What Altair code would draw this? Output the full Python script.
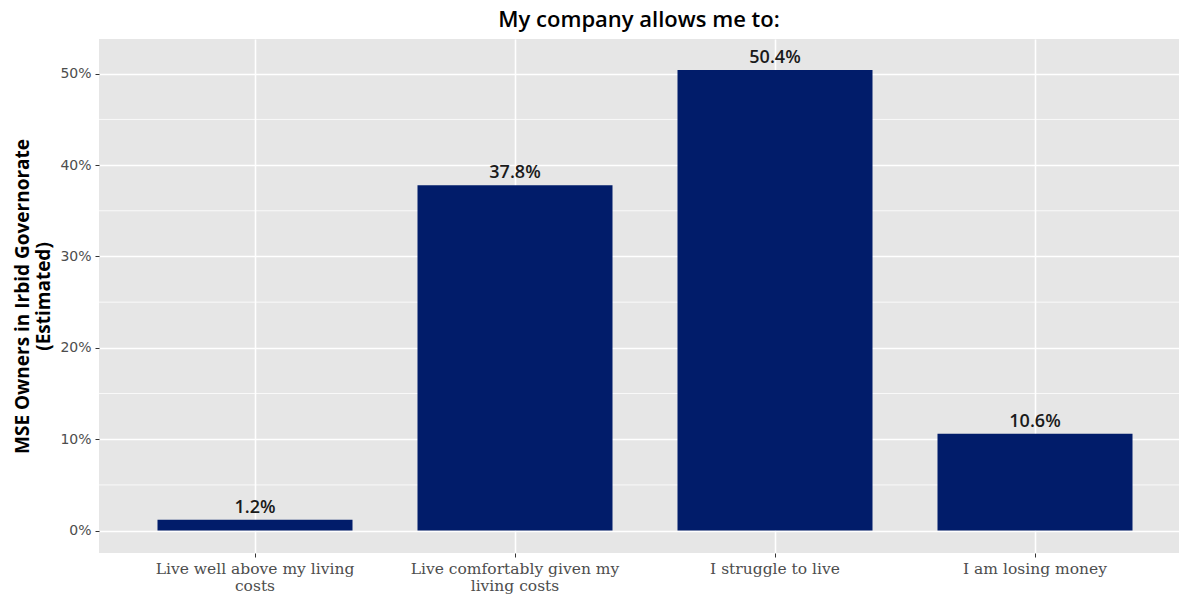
import altair as alt
import pandas as pd

categories = [
    "Live well above my living costs",
    "Live comfortably given my living costs",
    "I struggle to live",
    "I am losing money",
]
label_lines = [
    ["Live well above my living", "costs"],
    ["Live comfortably given my", "living costs"],
    ["I struggle to live"],
    ["I am losing money"],
]
values = [1.2, 37.8, 50.4, 10.6]
y_ticks = [0, 10, 20, 30, 40, 50]
y_minor = [5, 15, 25, 35, 45]

df = pd.DataFrame({
    "cat": categories,
    "val": values,
    "lab": [f"{v:.1f}%" for v in values],
})
minor_df = pd.DataFrame({"val": y_minor})

expr = ""
for c, lines in zip(categories, label_lines):
    expr += f"datum.value === {c!r} ? {lines!r} : "
expr += "datum.value"

yscale = alt.Scale(domain=[-2.45, 53.8], nice=False, zero=False)
xscale = alt.Scale(domain=categories, paddingInner=0.25, paddingOuter=0.225, range=[0, 1092])

yaxis = alt.Axis(
    title=["MSE Owners in Irbid Governorate", "(Estimated)"],
    titleFont="Open Sans",
    titleFontSize=19,
    titleFontWeight="bold",
    titleColor="black",
    titleLineHeight=21,
    titlePadding=6,
    values=y_ticks,
    labelExpr="datum.value + '%'",
    labelFont="DejaVu Sans",
    labelFontSize=14,
    labelColor="#4D4D4D",
    labelPadding=4,
    tickSize=4,
    tickColor="#333333",
    domain=False,
    grid=True,
    gridColor="white",
    gridWidth=1.6,
)

minor = alt.Chart(minor_df).mark_rule(color="white", strokeWidth=0.8).encode(
    y=alt.Y("val:Q", scale=yscale, axis=yaxis)
)

base = alt.Chart(df).encode(
    x=alt.X(
        "cat:N",
        scale=xscale,
        sort=categories,
        axis=alt.Axis(
            title=None,
            labelExpr=expr,
            labelAngle=0,
            labelLimit=400,
            labelFont="DejaVu Serif",
            labelFontSize=15.5,
            labelColor="#4D4D4D",
            labelPadding=4,
            labelLineHeight=17,
            tickSize=4,
            tickColor="#333333",
            domain=False,
            grid=True,
            gridColor="white",
            gridWidth=1.6,
            bandPosition=0.5,
        ),
    ),
    y=alt.Y("val:Q", scale=yscale, axis=yaxis),
)

bars = base.mark_bar(color="#011C6A")
text = base.mark_text(
    baseline="bottom", dy=-3, fontSize=18, font="Open Sans", fontWeight=600, color="#1a1a1a"
).encode(text="lab:N")

chart = (
    alt.layer(minor, bars, text)
    .properties(
        width=1080,
        height=514,
        autosize="none",
        padding={"left": 91, "top": 31, "right": 0, "bottom": 43},
        title=alt.Title(
            "My company allows me to:",
            font="Open Sans",
            fontSize=22,
            fontWeight=600,
            color="black",
            offset=7,
        ),
    )
    .configure_view(fill="#E6E6E6", stroke=None)
)

chart.save("out.html", embed_options={"renderer": "svg", "actions": False})
